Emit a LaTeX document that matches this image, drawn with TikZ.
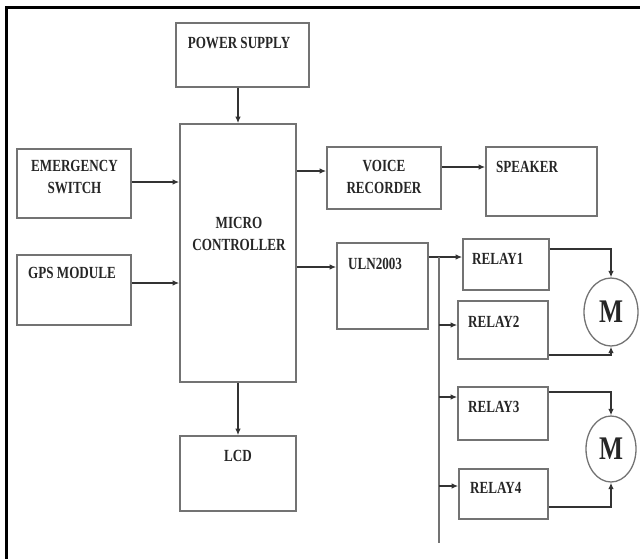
\documentclass[tikz,border=0pt]{standalone}
\usepackage{fontspec}
\setmainfont{Liberation Serif}[FakeStretch=0.77]
\usetikzlibrary{shapes.geometric, arrows.meta, positioning, calc}

\begin{document}
\begin{tikzpicture}[
    x=1pt, y=-1pt,
    blk/.style={rectangle, draw=black!55, line width=1.6pt, inner sep=0pt},
    motor/.style={ellipse, draw=black!55, line width=1.3pt, inner sep=0pt, font=\fontsize{33}{33}\selectfont\bfseries, text=black!85},
    txt/.style={font=\fontsize{17}{22}\selectfont\bfseries, text=black!85, inner sep=0pt, align=center},
    conn/.style={-{Latex[length=6.5pt,width=5.5pt]}, line width=1.5pt, black!80},
    bus/.style={line width=1.6pt, black!55}
]
\useasboundingbox (0,0) rectangle (640,558);
% outer frame
\draw[line width=3pt] (6.5,620) |- (700,7);

% blocks
\node[blk, minimum width=133pt, minimum height=64pt] (ps) at (242.5,55) {};
\node[blk, minimum width=116pt, minimum height=258pt] (mc) at (238,253) {};
\node[blk, minimum width=114pt, minimum height=69pt] (es) at (74,183.5) {};
\node[blk, minimum width=114pt, minimum height=70pt] (gps) at (74,290) {};
\node[blk, minimum width=116pt, minimum height=75pt] (lcd) at (238,473.5) {};
\node[blk, minimum width=114pt, minimum height=62pt] (vr) at (384,178) {};
\node[blk, minimum width=111pt, minimum height=69pt] (spk) at (541.5,181.5) {};
\node[blk, minimum width=91pt, minimum height=86pt] (uln) at (382.5,286) {};
\node[blk, minimum width=86pt, minimum height=51pt] (r1) at (506,264.5) {};
\node[blk, minimum width=90pt, minimum height=58pt] (r2) at (503,330) {};
\node[blk, minimum width=90pt, minimum height=53pt] (r3) at (503,413.5) {};
\node[blk, minimum width=89pt, minimum height=50pt] (r4) at (503.5,494) {};
\node[motor, minimum width=54pt, minimum height=68pt] (m1) at (611,312) {M};
\node[motor, minimum width=50pt, minimum height=66pt] (m2) at (611,449) {M};

% block texts
\node[txt, anchor=base] (pstxt) at (239,48) {POWER SUPPLY};
\node[txt] (mctxt) at (239,234) {MICRO\\CONTROLLER};
\node[txt] (estxt) at (74.5,177) {EMERGENCY\\SWITCH};
\node[txt, anchor=base] (gpstxt) at (72,278) {GPS MODULE};
\node[txt, anchor=base] (lcdtxt) at (238,461) {LCD};
\node[txt] (vrtxt) at (384,176.5) {VOICE\\RECORDER};
\node[txt, anchor=base west] (spktxt) at (496,172) {SPEAKER};
\node[txt, anchor=base west] (ulntxt) at (348,269) {ULN2003};
\node[txt, anchor=base west] (r1txt) at (472,264) {RELAY1};
\node[txt, anchor=base west] (r2txt) at (468,327) {RELAY2};
\node[txt, anchor=base west] (r3txt) at (468,412) {RELAY3};
\node[txt, anchor=base west] (r4txt) at (470,493) {RELAY4};

% connections
\draw[conn] (mc.north |- ps.south) -- (mc.north);
\draw[conn] ([yshift=1.5pt]es.east) -- ([yshift=1.5pt]es.east -| mc.west);
\draw[conn] ([yshift=7pt]gps.east) -- ([yshift=7pt]gps.east -| mc.west);
\draw[conn] (mc.south) -- (lcd.north);
\draw[conn] ([yshift=7pt]vr.west -| mc.east) -- ([yshift=7pt]vr.west);
\draw[conn] ([yshift=11pt]vr.east) -- ([yshift=11pt]vr.east -| spk.west);
\draw[conn] ([yshift=19pt]uln.west -| mc.east) -- ([yshift=19pt]uln.west);
\draw[conn] ([yshift=29pt]uln.east) -- ([yshift=29pt]uln.east -| r1.west);

% relay bus
\coordinate (bustop) at (439,257);
\coordinate (busend) at (439,543);
\draw[bus] (bustop) -- (busend);
\draw[conn] ([yshift=5pt]r2.west -| bustop) -- ([yshift=5pt]r2.west);
\draw[conn] ([yshift=16.5pt]r3.west -| bustop) -- ([yshift=16.5pt]r3.west);
\draw[conn] ([yshift=8pt]r4.west -| bustop) -- ([yshift=8pt]r4.west);

% motors
\draw[conn] ([yshift=15.5pt]r1.east) -| (m1.north);
\draw[conn] ([yshift=-25pt]r2.east) -| (m1.south);
\draw[conn] ([yshift=21.5pt]r3.east) -| (m2.north);
\draw[conn] ([yshift=-13pt]r4.east) -| (m2.south);
\end{tikzpicture}
\end{document}
